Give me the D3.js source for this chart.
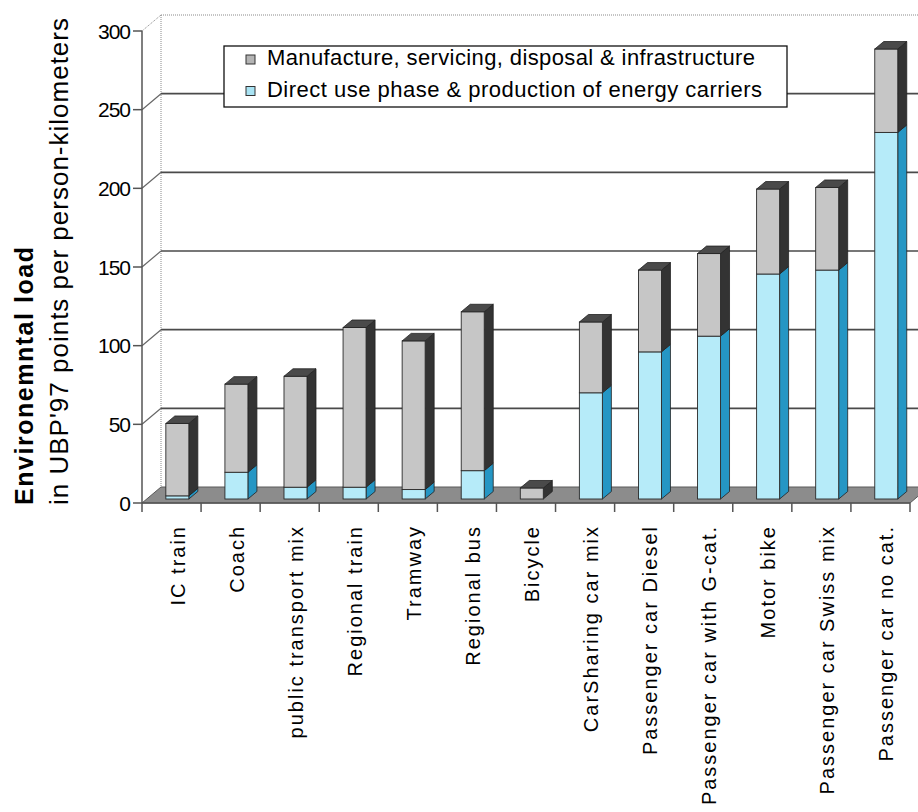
<!DOCTYPE html>
<html>
<head>
<meta charset="utf-8">
<script src="https://cdn.jsdelivr.net/npm/d3@7/dist/d3.min.js"></script>
<style>
  html, body { margin: 0; padding: 0; background: #ffffff; }
  svg { display: block; font-family: "Liberation Sans", Arial, sans-serif; }
</style>
</head>
<body>
<script>
// Environmental load per person-kilometer, by means of transport
const categories = [
  "IC train", "Coach", "public transport mix", "Regional train", "Tramway",
  "Regional bus", "Bicycle", "CarSharing car mix", "Passenger car Diesel",
  "Passenger car with G-cat.", "Motor bike", "Passenger car Swiss mix",
  "Passenger car no cat."
];
// Direct use phase & production of energy carriers
const directUse = [2, 17, 7.5, 7.5, 6, 18, 0, 67.5, 93.5, 103.5, 143, 145.5, 233];
// Manufacture, servicing, disposal & infrastructure
const manufacture = [46, 56, 70.5, 101.5, 94.5, 101, 7, 45, 52, 52.5, 54, 52.5, 53];
const yTicks = [0, 50, 100, 150, 200, 250, 300];
const seriesNames = [
  "Manufacture, servicing, disposal & infrastructure",
  "Direct use phase & production of energy carriers"
];

const W = 918, H = 812;
const svg = d3.select("body").append("svg").attr("width", W).attr("height", H);

// Plot geometry (front plane) and pseudo-3D depth offsets
const x = d3.scaleBand().domain(categories).range([142, 910]).padding(0);
const y = d3.scaleLinear().domain([0, 300]).range([503, 31]);
const DX = 19, DY = -16;            // wall depth
const FX = 5.8, FY = -4;            // bar front face offset into the depth
const BW = 23, BDX = 9, BDY = -7.5; // bar width and bar depth

const colors = {
  manuf:  { front: "#c6c6c6", side: "#333333", top: "#4a4a4a" },
  direct: { front: "#b6ebf9", side: "#2596c4", top: "#5cc0e0" }
};

// Back wall: dotted border
const wall = svg.append("g");
wall.append("line")
  .attr("x1", 142 + DX).attr("x2", W).attr("y1", y(300) + DY).attr("y2", y(300) + DY)
  .attr("stroke", "#8a8a8a").attr("stroke-width", 1).attr("stroke-dasharray", "1,1");
wall.append("line")
  .attr("x1", 142 + DX).attr("x2", 142 + DX).attr("y1", y(300) + DY).attr("y2", y(0) + DY)
  .attr("stroke", "#8a8a8a").attr("stroke-width", 1).attr("stroke-dasharray", "1,1");
wall.append("line")
  .attr("x1", 142).attr("x2", 142 + DX).attr("y1", y(300)).attr("y2", y(300) + DY)
  .attr("stroke", "#8a8a8a").attr("stroke-width", 1).attr("stroke-dasharray", "1,1");

// Gridlines on the back wall and their side-wall diagonals
const grid = yTicks.filter(t => t > 0 && t < 300);
wall.selectAll("line.grid").data(grid).join("line")
  .attr("class", "grid")
  .attr("x1", 142 + DX).attr("x2", W)
  .attr("y1", d => y(d) + DY).attr("y2", d => y(d) + DY)
  .attr("stroke", "#4a4a4a").attr("stroke-width", 1.6);
wall.selectAll("line.diag").data(grid).join("line")
  .attr("class", "diag")
  .attr("x1", 142).attr("x2", 142 + DX)
  .attr("y1", d => y(d)).attr("y2", d => y(d) + DY)
  .attr("stroke", "#666666").attr("stroke-width", 1.2);

// Floor
svg.append("polygon")
  .attr("points", [
    [142, y(0)], [910, y(0)], [910 + DX, y(0) + DY], [142 + DX, y(0) + DY]
  ].map(p => p.join(",")).join(" "))
  .attr("fill", "#8c8c8c").attr("stroke", "#5a5a5a").attr("stroke-width", 1);

// Stacked 3D bars
const barsG = svg.append("g");
categories.forEach((c, i) => {
  const cx = x(c) + x.bandwidth() / 2 + FX;
  const x0 = cx - BW / 2, x1 = cx + BW / 2;
  const segs = [
    { from: 0, to: directUse[i], col: colors.direct },
    { from: directUse[i], to: directUse[i] + manufacture[i], col: colors.manuf }
  ].filter(s => s.to > s.from);
  const g = barsG.append("g");
  segs.forEach((s, k) => {
    const yt = y(s.to) + FY, yb = y(s.from) + FY;
    // side face
    g.append("polygon")
      .attr("points", [[x1, yt], [x1 + BDX, yt + BDY], [x1 + BDX, yb + BDY], [x1, yb]]
        .map(p => p.join(",")).join(" "))
      .attr("fill", s.col.side).attr("stroke", "#222").attr("stroke-width", 0.8);
    // front face
    g.append("rect")
      .attr("x", x0).attr("y", yt).attr("width", BW).attr("height", yb - yt)
      .attr("fill", s.col.front).attr("stroke", "#2a2a2a").attr("stroke-width", 0.9);
    // top face on the highest segment
    if (k === segs.length - 1) {
      g.append("polygon")
        .attr("points", [[x0, yt], [x0 + BDX, yt + BDY], [x1 + BDX, yt + BDY], [x1, yt]]
          .map(p => p.join(",")).join(" "))
        .attr("fill", s.col.top).attr("stroke", "#222").attr("stroke-width", 0.8);
    }
  });
});

// Value axis
const yAxisG = svg.append("g");
yAxisG.append("line")
  .attr("x1", 142).attr("x2", 142).attr("y1", y(300)).attr("y2", y(0))
  .attr("stroke", "#555").attr("stroke-width", 1.5);
yAxisG.selectAll("line.tick").data(yTicks).join("line")
  .attr("class", "tick")
  .attr("x1", 133).attr("x2", 142).attr("y1", d => y(d)).attr("y2", d => y(d))
  .attr("stroke", "#555").attr("stroke-width", 1.5);
yAxisG.selectAll("text").data(yTicks).join("text")
  .attr("x", 130).attr("y", d => y(d)).attr("dy", "0.36em")
  .attr("text-anchor", "end")
  .attr("font-size", 21).attr("letter-spacing", "-1px")
  .attr("fill", "#000").text(d => d);

// Category axis
const xAxisG = svg.append("g");
xAxisG.append("line")
  .attr("x1", 142).attr("x2", 910).attr("y1", y(0)).attr("y2", y(0))
  .attr("stroke", "#555").attr("stroke-width", 1.5);
const bounds = categories.map(c => x(c)).concat([x.range()[1]]);
xAxisG.selectAll("line.tick").data(bounds).join("line")
  .attr("class", "tick")
  .attr("x1", d => d).attr("x2", d => d).attr("y1", y(0)).attr("y2", y(0) + 9)
  .attr("stroke", "#555").attr("stroke-width", 1.5);
xAxisG.selectAll("text").data(categories).join("text")
  .attr("transform", d => `translate(${x(d) + x.bandwidth() / 2 + 13},525) rotate(-90)`)
  .attr("text-anchor", "end")
  .attr("font-size", 20).attr("letter-spacing", "2px")
  .attr("fill", "#000").text(d => d);

// Axis title
const title = svg.append("g");
title.append("text")
  .attr("transform", "translate(33,505) rotate(-90)")
  .attr("font-size", 25).attr("font-weight", "bold")
  .attr("textLength", 258).attr("lengthAdjust", "spacing")
  .attr("fill", "#000").text("Environemntal load");
title.append("text")
  .attr("transform", "translate(68,505) rotate(-90)")
  .attr("font-size", 26)
  .attr("textLength", 487).attr("lengthAdjust", "spacing")
  .attr("fill", "#000").text("in UBP'97 points per person-kilometers");

// Legend
const legend = svg.append("g");
legend.append("rect")
  .attr("x", 224).attr("y", 46).attr("width", 563).attr("height", 61)
  .attr("fill", "#fff").attr("stroke", "#111").attr("stroke-width", 1.3);
const legendItems = [
  { name: seriesNames[0], fill: "#b4b4b4", baseline: 65, len: 488 },
  { name: seriesNames[1], fill: "#a9e3f3", baseline: 96.5, len: 495 }
];
legendItems.forEach(it => {
  legend.append("rect")
    .attr("x", 246).attr("y", it.baseline - 10).attr("width", 9).attr("height", 9)
    .attr("fill", it.fill).attr("stroke", "#333").attr("stroke-width", 1);
  legend.append("text")
    .attr("x", 267).attr("y", it.baseline)
    .attr("font-size", 22)
    .attr("textLength", it.len).attr("lengthAdjust", "spacing")
    .attr("fill", "#000").text(it.name);
});
</script>
</body>
</html>
